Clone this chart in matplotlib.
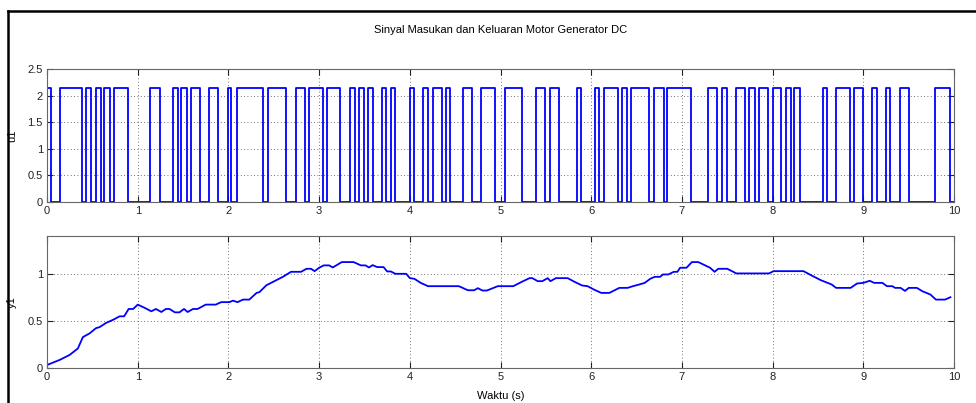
import numpy as np
import matplotlib
matplotlib.use('Agg')
import matplotlib.pyplot as plt
from matplotlib.lines import Line2D

plt.rcParams['font.family'] = ['Liberation Sans', 'DejaVu Sans']
plt.rcParams['font.size'] = 8

# ---- data ----
# u1: square wave, starts high at t=0, toggles at each switch time
u1_high = 2.15
u1_switch = [0.04, 0.14, 0.39, 0.43, 0.49, 0.54, 0.59, 0.63, 0.69, 0.74, 0.89,
             1.14, 1.24, 1.39, 1.44, 1.48, 1.54, 1.59, 1.69, 1.79, 1.89, 1.99,
             2.03, 2.09, 2.38, 2.44, 2.64, 2.74, 2.84, 2.89, 3.04, 3.09, 3.23,
             3.34, 3.39, 3.44, 3.49, 3.54, 3.59, 3.69, 3.74, 3.79, 3.84, 4.00,
             4.05, 4.15, 4.20, 4.25, 4.35, 4.40, 4.44, 4.59, 4.69, 4.79, 4.94,
             5.05, 5.24, 5.39, 5.49, 5.54, 5.65, 5.84, 5.89, 6.04, 6.09, 6.14,
             6.29, 6.34, 6.39, 6.44, 6.64, 6.69, 6.80, 6.84, 7.10, 7.29, 7.39,
             7.44, 7.50, 7.60, 7.70, 7.74, 7.80, 7.85, 7.95, 8.00, 8.09, 8.15,
             8.20, 8.24, 8.30, 8.55, 8.60, 8.70, 8.85, 8.90, 9.00, 9.10, 9.15,
             9.25, 9.29, 9.40, 9.50, 9.79, 9.95]
t_end = 10.0

# y1: motor generator output
y1_t = [0.00, 0.14, 0.25, 0.34, 0.395, 0.47, 0.54, 0.58, 0.65, 0.73, 0.80, 0.85,
        0.90, 0.95, 1.00, 1.08, 1.15, 1.20, 1.26, 1.31, 1.35, 1.41, 1.46, 1.51,
        1.55, 1.61, 1.66, 1.75, 1.86, 1.92, 2.01, 2.05, 2.10, 2.16, 2.23, 2.31,
        2.34, 2.42, 2.47, 2.60, 2.69, 2.80, 2.86, 2.91, 2.95, 3.00, 3.05, 3.11,
        3.15, 3.25, 3.38, 3.46, 3.51, 3.55, 3.59, 3.64, 3.71, 3.75, 3.79, 3.84,
        3.96, 4.00, 4.05, 4.12, 4.20, 4.54, 4.64, 4.71, 4.75, 4.80, 4.85, 4.97,
        5.14, 5.24, 5.32, 5.35, 5.41, 5.46, 5.52, 5.55, 5.61, 5.74, 5.81, 5.90,
        5.96, 6.03, 6.11, 6.20, 6.31, 6.40, 6.46, 6.53, 6.59, 6.65, 6.70, 6.76,
        6.79, 6.85, 6.91, 6.95, 6.98, 7.05, 7.11, 7.18, 7.31, 7.36, 7.40, 7.50,
        7.60, 7.96, 8.01, 8.34, 8.43, 8.53, 8.65, 8.70, 8.86, 8.93, 9.00, 9.07,
        9.12, 9.21, 9.26, 9.32, 9.35, 9.41, 9.46, 9.50, 9.59, 9.65, 9.74, 9.80,
        9.90, 9.96]
y1_v = [0.035, 0.089, 0.142, 0.21, 0.33, 0.37, 0.425, 0.436, 0.48, 0.514, 0.55, 0.55,
        0.628, 0.628, 0.674, 0.638, 0.603, 0.628, 0.596, 0.628, 0.628, 0.592, 0.592, 0.628,
        0.596, 0.628, 0.628, 0.674, 0.674, 0.70, 0.70, 0.716, 0.70, 0.727, 0.727, 0.798,
        0.805, 0.88, 0.904, 0.968, 1.021, 1.021, 1.053, 1.053, 1.028, 1.064, 1.089, 1.089,
        1.067, 1.124, 1.124, 1.089, 1.089, 1.067, 1.092, 1.071, 1.071, 1.025, 1.025, 1.0,
        1.0, 0.954, 0.947, 0.904, 0.869, 0.869, 0.826, 0.826, 0.848, 0.823, 0.823, 0.869,
        0.869, 0.918, 0.954, 0.954, 0.922, 0.922, 0.954, 0.922, 0.954, 0.954, 0.918, 0.876,
        0.869, 0.833, 0.798, 0.798, 0.851, 0.851, 0.869, 0.887, 0.904, 0.947, 0.968, 0.968,
        0.993, 0.993, 1.021, 1.021, 1.064, 1.064, 1.124, 1.124, 1.064, 1.021, 1.053, 1.053,
        1.004, 1.004, 1.028, 1.028, 0.982, 0.933, 0.887, 0.851, 0.851, 0.897, 0.904, 0.926,
        0.904, 0.904, 0.869, 0.869, 0.851, 0.851, 0.819, 0.851, 0.851, 0.816, 0.78, 0.727,
        0.727, 0.752]

# build step arrays (alternating high / low)
u1_t = [0.0] + u1_switch
u1_v = [u1_high if i % 2 == 0 else 0.0 for i in range(len(u1_t))]
u1_t = u1_t + [t_end]
u1_v = u1_v + [u1_v[-1]]

fig = plt.figure(figsize=(9.76, 4.03), dpi=100)
fig.patch.set_facecolor('white')

ax1 = fig.add_axes([0.0482, 0.4995, 0.9293, 0.3293])
ax2 = fig.add_axes([0.0482, 0.0861, 0.9293, 0.3283])

ax1.plot(u1_t, u1_v, color='#0000ff', lw=1.3, drawstyle='steps-post')
ax2.plot(y1_t, y1_v, color='#0000ff', lw=1.3)

ax1.set_ylim(0, 2.5)
ax1.set_yticks([0, 0.5, 1, 1.5, 2, 2.5])
ax1.set_yticklabels(['0', '0.5', '1', '1.5', '2', '2.5'])
ax2.set_ylim(0, 1.4)
ax2.set_yticks([0, 0.5, 1])
ax2.set_yticklabels(['0', '0.5', '1'])

for ax in (ax1, ax2):
    ax.set_xlim(0, 10)
    ax.set_xticks(range(0, 11))
    ax.tick_params(direction='in', length=4, width=0.8, top=True, right=True,
                   labelsize=8, pad=3, colors='#222222')
    ax.grid(True, color='#444444', linestyle=(0, (1, 3)), linewidth=0.6)
    for sp in ax.spines.values():
        sp.set_edgecolor('#666666')
        sp.set_linewidth(0.8)

ax1.set_ylabel('u1', fontsize=8)
ax2.set_ylabel('y1', fontsize=8)
ax1.yaxis.set_label_coords(-0.033, 0.5)
ax2.yaxis.set_label_coords(-0.033, 0.5)
ax2.set_xlabel('Waktu (s)', fontsize=8, labelpad=6)
ax1.set_title('Sinyal Masukan dan Keluaran Motor Generator DC', fontsize=8, pad=26)

# screenshot frame lines
fig.add_artist(Line2D([8/976, 1.0], [1 - 11/403, 1 - 11/403], color='black', lw=1.8,
                      transform=fig.transFigure))
fig.add_artist(Line2D([8/976, 8/976], [0.0, 1 - 11/403], color='black', lw=1.8,
                      transform=fig.transFigure))

plt.savefig('out.png', dpi=100, facecolor='white')
